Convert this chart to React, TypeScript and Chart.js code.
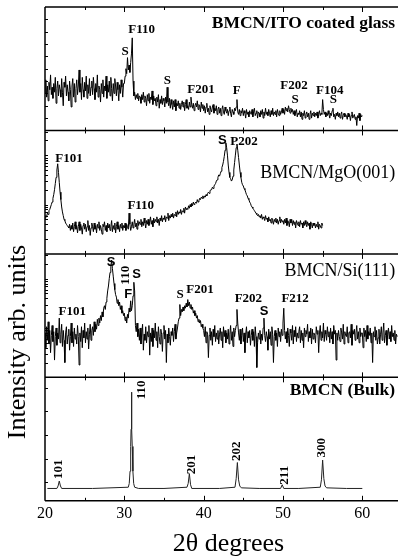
import React, { useEffect, useRef } from "react";
import { Chart, registerables } from "chart.js";

Chart.register(...registerables);

// ---------------- data (intensity in arbitrary units, 0-100 per panel) ----------------
const itoStartAngle = 20;
const itoStep = 0.1;
const itoIntensity = [
  30, 41, 27, 36, 24, 39, 33, 45, 29, 35,
  26, 38, 31, 43, 22, 34, 40, 28, 37, 33,
  27, 42, 31, 20, 39, 35, 44, 28, 37, 31,
  24, 40, 33, 19, 36, 42, 27, 38, 23, 34,
  41, 29, 36, 49, 31, 38, 25, 43, 33, 27,
  39, 32, 44, 26, 37, 30, 42, 28, 35, 40,
  29, 43, 34, 25, 38, 31, 45, 27, 36, 33,
  23, 38, 30, 41, 27, 36, 32, 44, 26, 37,
  31, 40, 28, 43, 34, 24, 38, 30, 42, 36,
  28, 39, 33, 24, 37, 30, 41, 35, 27, 38,
  38, 44, 50, 46, 59, 49, 53, 47, 55, 62,
  75, 40, 28, 31, 25, 29, 26, 30, 24, 28,
  27, 22, 29, 25, 31, 23, 28, 26, 20, 29,
  24, 30, 22, 27, 25, 32, 21, 28, 24, 26,
  20, 27, 23, 29, 18, 25, 22, 28, 21, 26,
  24, 19, 27, 22, 35, 23, 20, 26, 18, 25,
  21, 17, 24, 19, 25, 16, 22, 20, 24, 18,
  22, 17, 21, 24, 19, 23, 16, 21, 25, 18,
  20, 17, 23, 19, 27, 21, 18, 22, 16, 20,
  22, 19, 24, 17, 21, 20, 15, 23, 18, 21,
  16, 20, 14, 19, 22, 15, 18, 13, 20, 17,
  15, 19, 21, 14, 18, 16, 20, 13, 17, 19,
  14, 18, 12, 17, 20, 15, 13, 19, 16, 14,
  17, 12, 16, 19, 14, 11, 17, 15, 13, 18,
  16, 19, 25, 15, 13, 17, 12, 16, 14, 18,
  12, 16, 14, 10, 17, 13, 15, 11, 16, 14,
  13, 17, 11, 15, 18, 12, 14, 16, 10, 15,
  14, 11, 16, 13, 17, 10, 15, 12, 18, 13,
  15, 12, 17, 14, 11, 16, 13, 18, 12, 15,
  13, 16, 11, 17, 14, 12, 16, 13, 15, 18,
  14, 17, 13, 19, 16, 18, 15, 20, 17, 14,
  18, 15, 17, 13, 16, 12, 15, 17, 11, 14,
  13, 16, 11, 15, 9, 14, 12, 16, 10, 13,
  15, 11, 14, 9, 13, 16, 10, 14, 12, 15,
  11, 14, 12, 15, 10, 13, 16, 12, 14, 13,
  25, 17, 13, 15, 11, 14, 12, 16, 13, 10,
  14, 12, 16, 18, 11, 13, 9, 14, 12, 15,
  11, 14, 10, 13, 15, 9, 12, 14, 11, 13,
  12, 9, 14, 11, 13, 8, 12, 15, 10, 12,
  13, 9, 11, 4, 12, 10, 14, 8, 13, 11,
  12,
];

const mgoStartAngle = 20;
const mgoStep = 0.1;
const mgoIntensity = [
  29, 31, 30, 33, 32, 35, 36, 38, 40, 42,
  45, 48, 52, 57, 62, 68, 73, 66, 58, 50,
  44, 38, 34, 31, 28, 27, 25, 24, 23, 22,
  21, 24, 19, 23, 20, 25, 18, 22, 26, 20,
  23, 17, 22, 26, 19, 24, 21, 16, 23, 25,
  20, 24, 18, 22, 27, 19, 23, 15, 21, 25,
  22, 18, 25, 20, 23, 17, 24, 21, 26, 19,
  23, 20, 16, 24, 22, 26, 19, 23, 18, 25,
  21, 24, 19, 22, 27, 18, 23, 20, 25, 17,
  22, 26, 20, 23, 18, 24, 21, 25, 19, 23,
  21, 25, 19, 24, 22, 20, 33, 24, 19, 22,
  26, 21, 24, 28, 22, 25, 20, 27, 23, 26,
  24, 28, 22, 26, 23, 29, 25, 21, 27, 24,
  28, 23, 26, 30, 24, 27, 22, 29, 25, 28,
  26, 30, 25, 28, 23, 29, 27, 31, 26, 29,
  28, 31, 26, 30, 29, 33, 27, 31, 29, 32,
  30, 33, 29, 32, 31, 34, 30, 35, 32, 34,
  33, 36, 32, 35, 34, 37, 33, 38, 36, 37,
  36, 39, 37, 40, 38, 41, 39, 42, 40, 41,
  42, 41, 44, 42, 43, 45, 44, 46, 45, 47,
  45, 47, 46, 48, 47, 49, 50, 49, 51, 52,
  52, 54, 53, 55, 56, 57, 59, 60, 62, 64,
  63, 65, 67, 70, 72, 75, 79, 84, 90, 86,
  80, 72, 66, 62, 61, 59, 60, 63, 68, 74,
  80, 86, 89, 84, 78, 72, 66, 62, 58, 56,
  55, 53, 52, 50, 48, 47, 45, 44, 42, 41,
  39, 38, 37, 36, 35, 34, 33, 32, 31, 32,
  30, 31, 29, 32, 28, 30, 29, 27, 31, 28,
  29, 26, 30, 27, 28, 25, 29, 27, 24, 28,
  26, 29, 25, 28, 24, 27, 30, 25, 28, 26,
  27, 24, 28, 25, 29, 23, 27, 26, 22, 28,
  25, 28, 23, 27, 24, 26, 21, 27, 25, 23,
  26, 22, 27, 24, 25, 21, 26, 23, 27, 24,
  22, 26, 23, 25, 20, 26, 24, 21, 25, 23,
  25, 21, 24, 22, 26, 20, 24, 23, 21, 25,
  23,
];

const siStartAngle = 20;
const siStep = 0.1;
const siIntensity = [
  36, 24, 41, 30, 45, 27, 38, 20, 34, 42,
  29, 37, 14, 33, 40, 26, 36, 31, 48, 28,
  35, 43, 25, 38, 30, 12, 36, 41, 27, 34,
  39, 22, 33, 44, 28, 37, 25, 40, 31, 35,
  27, 42, 33, 10, 36, 29, 41, 24, 38, 32,
  44, 28, 37, 31, 40, 23, 35, 43, 30, 38,
  41, 34, 45, 37, 43, 39, 47, 42, 48, 44,
  50, 46, 53, 49, 56, 58, 55, 61, 64, 70,
  74, 80, 85, 90, 95, 88, 82, 76, 71, 67,
  65, 60, 63, 58, 61, 55, 58, 52, 54, 50,
  52, 46, 49, 44, 51, 48, 56, 53, 62, 54,
  58, 66, 77, 70, 42, 37, 44, 33, 39, 30,
  40, 27, 36, 43, 22, 35, 30, 41, 28, 37,
  33, 42, 18, 36, 29, 40, 25, 38, 32, 44,
  30, 37, 24, 41, 33, 27, 39, 35, 21, 36,
  42, 31, 38, 12, 35, 28, 40, 33, 26, 37,
  34, 40, 29, 37, 43, 31, 36, 40, 45, 48,
  59, 50, 55, 53, 57, 54, 58, 56, 60, 57,
  63, 58, 61, 56, 59, 55, 57, 52, 54, 50,
  52, 48, 50, 45, 47, 44, 46, 41, 43, 40,
  38, 33, 41, 28, 37, 35, 16, 34, 40, 30,
  37, 26, 39, 33, 42, 29, 36, 31, 38, 27,
  35, 40, 30, 37, 24, 41, 33, 38, 28, 36,
  31, 39, 27, 35, 42, 30, 37, 25, 40, 33,
  38, 42, 55, 44, 36, 30, 39, 27, 34, 40,
  29, 36, 20, 35, 41, 28, 37, 32, 38, 26,
  34, 39, 30, 37, 25, 41, 33, 8, 28, 36,
  31, 38, 27, 35, 30, 40, 48, 34, 29, 37,
  33, 22, 39, 31, 37, 26, 41, 35, 12, 33,
  38, 30, 36, 25, 40, 33, 37, 29, 39, 34,
  44, 56, 38, 31, 37, 28, 40, 34, 25, 39,
  36, 30, 42, 27, 38, 33, 41, 29, 36, 32,
  37, 41, 28, 38, 30, 36, 24, 40, 33, 38,
  35, 43, 29, 37, 32, 40, 27, 39, 31, 36,
  34, 28, 41, 35, 38, 20, 36, 42, 30, 37,
  32, 44, 29, 38, 35, 30, 41, 33, 37, 28,
  40, 31, 37, 27, 42, 35, 38, 14, 36, 30,
  38, 33, 29, 40, 36, 31, 43, 27, 37, 34,
  33, 41, 28, 36, 37, 32, 43, 26, 38, 35,
  39, 30, 36, 42, 31, 37, 28, 40, 33, 36,
  36, 24, 40, 33, 38, 29, 42, 31, 37, 34,
  40, 28, 36, 12, 37, 33, 41, 30, 38, 27,
  32, 39, 27, 35, 41, 30, 36, 44, 28, 34,
  38, 26, 35, 40, 31, 37, 29, 42, 33, 36,
  30, 38, 27, 35, 33,
];

const bulkAngle = [
  20.3, 21.5, 21.65, 21.8, 21.95, 22.1, 26,
  30.5, 30.62, 30.72, 30.8, 30.85, 30.9, 30.95, 31.0, 31.08, 31.18, 31.3, 31.8, 35,
  37.9, 38.05, 38.2, 38.35, 38.5, 42,
  43.95, 44.1, 44.25, 44.4, 44.55, 44.75, 47,
  49.7, 49.9, 50.1, 52,
  54.7, 54.85, 55.0, 55.15, 55.3, 55.5, 58, 60,
];
const bulkIntensity = [
  10, 10, 12, 16, 12, 10, 10,
  11, 14, 24, 44, 58, 88, 58, 44, 24, 14, 11, 10, 10,
  11, 14, 22, 13, 10, 10,
  11, 18, 31, 17, 12, 10.5, 10,
  10, 13, 10, 10,
  11, 17, 33, 18, 12, 10.5, 10, 10,
];

const sampleNames = ["BMCN/ITO coated glass", "BMCN/MgO(001)", "BMCN/Si(111)", "BMCN (Bulk)"];
const sampleNameY = [387, 265.6, 185.9, 89.3];
const sampleNameBold = [true, false, false, true];
const panelBase = [300, 200, 100, 0];
const panelEdges = [0, 100, 200, 300, 400];
const xTickValues = [20, 30, 40, 50, 60];
const xMinorTicks = [25, 30, 35, 40, 45, 50, 55, 60];

type PeakLabel = { text: string; x: number; y: number; kind: "serif" | "sans" | "rot" };
const peakLabels: PeakLabel[] = [
  // ITO coated glass
  { text: "S", x: 30.09, y: 363.8, kind: "serif" },
  { text: "F110", x: 32.19, y: 381.5, kind: "serif" },
  { text: "S", x: 35.42, y: 340.7, kind: "serif" },
  { text: "F201", x: 39.67, y: 333.2, kind: "serif" },
  { text: "F", x: 44.17, y: 332.4, kind: "serif" },
  { text: "F202", x: 51.4, y: 336.4, kind: "serif" },
  { text: "S", x: 51.53, y: 324.6, kind: "serif" },
  { text: "F104", x: 55.9, y: 332.6, kind: "serif" },
  { text: "S", x: 56.36, y: 324.6, kind: "serif" },
  // MgO(001)
  { text: "F101", x: 23.03, y: 277.4, kind: "serif" },
  { text: "F110", x: 32.07, y: 238.8, kind: "serif" },
  { text: "S", x: 42.36, y: 291.6, kind: "sans" },
  { text: "P202", x: 45.09, y: 291.1, kind: "serif" },
  // Si(111)
  { text: "S", x: 28.32, y: 193.2, kind: "sans" },
  { text: "110", x: 30.21, y: 182.7, kind: "rot" },
  { text: "F", x: 30.5, y: 166.8, kind: "sans" },
  { text: "S", x: 31.56, y: 183.5, kind: "sans" },
  { text: "S", x: 37.02, y: 166.8, kind: "serif" },
  { text: "F201", x: 39.55, y: 170.9, kind: "serif" },
  { text: "F202", x: 45.64, y: 163.4, kind: "serif" },
  { text: "S", x: 47.62, y: 153.5, kind: "sans" },
  { text: "F212", x: 51.53, y: 163.4, kind: "serif" },
  { text: "F101", x: 23.44, y: 152.9, kind: "serif" },
  // Bulk
  { text: "110", x: 32.19, y: 89.9, kind: "rot" },
  { text: "101", x: 21.77, y: 25.5, kind: "rot" },
  { text: "201", x: 38.5, y: 29.5, kind: "rot" },
  { text: "202", x: 44.17, y: 40.2, kind: "rot" },
  { text: "211", x: 50.18, y: 20.7, kind: "rot" },
  { text: "300", x: 54.89, y: 42.9, kind: "rot" },
];

// left-axis minor tick positions (within each panel, 0-100)
const linearPanelTicks = [10, 20, 30, 40, 50, 60, 70, 80, 90];
const logPanelTicks = [12, 19, 24, 28, 31, 34, 36, 38, 40, 52, 59, 64, 68, 71, 74, 76, 78, 80, 92, 99];
const bulkPanelTicks = [15, 34, 53, 73, 91];

const SERIF = "'Liberation Serif', 'Times New Roman', serif";
const SANS = "'Liberation Sans', Arial, sans-serif";

const scan = (start: number, step: number, values: number[], base: number) =>
  values.map((v, i) => ({ x: +(start + i * step).toFixed(2), y: v + base }));

const decorPlugin = {
  id: "decor",
  afterDatasetsDraw(chart: any) {
    const { ctx, chartArea: a } = chart;
    const xs = chart.scales.x;
    const ys = chart.scales.y;
    ctx.save();
    ctx.strokeStyle = "#000";
    ctx.fillStyle = "#000";
    // frame and panel separators
    ctx.lineWidth = 1.5;
    ctx.beginPath();
    ctx.moveTo(a.left, a.top);
    ctx.lineTo(a.left, a.bottom);
    for (const b of panelEdges) {
      const py = ys.getPixelForValue(b);
      ctx.moveTo(a.left, py);
      ctx.lineTo(a.right, py);
    }
    ctx.stroke();
    // x ticks on every panel edge (inward both ways)
    ctx.lineWidth = 1;
    ctx.beginPath();
    for (const v of xMinorTicks) {
      const px = Math.round(xs.getPixelForValue(v)) + 0.5;
      const len = v % 10 === 0 ? 5 : 3;
      for (const b of panelEdges) {
        const py = ys.getPixelForValue(b);
        if (b < 400) { ctx.moveTo(px, py); ctx.lineTo(px, py - len); }
        if (b > 0) { ctx.moveTo(px, py); ctx.lineTo(px, py + len); }
      }
    }
    // left ticks
    const leftTicks = (base: number, list: number[]) => {
      for (const t of list) {
        const py = Math.round(ys.getPixelForValue(base + t)) + 0.5;
        ctx.moveTo(a.left, py);
        ctx.lineTo(a.left + 3, py);
      }
    };
    leftTicks(panelBase[0], linearPanelTicks);
    leftTicks(panelBase[1], logPanelTicks);
    leftTicks(panelBase[2], logPanelTicks);
    leftTicks(panelBase[3], bulkPanelTicks);
    ctx.stroke();

    // sample names
    ctx.textBaseline = "middle";
    ctx.textAlign = "right";
    sampleNames.forEach((name, i) => {
      ctx.font = `${sampleNameBold[i] ? "bold 17.5px" : "18px"} ${SERIF}`;
      ctx.fillText(name, xs.getPixelForValue(64.14), ys.getPixelForValue(sampleNameY[i]));
    });

    // peak labels
    ctx.textAlign = "center";
    for (const l of peakLabels) {
      const px = xs.getPixelForValue(l.x);
      const py = ys.getPixelForValue(l.y);
      if (l.kind === "rot") {
        ctx.font = `bold 13px ${SERIF}`;
        ctx.save();
        ctx.translate(px, py);
        ctx.rotate(-Math.PI / 2);
        ctx.fillText(l.text, 0, 0);
        ctx.restore();
      } else {
        ctx.font = l.kind === "sans" ? `bold 13px ${SANS}` : `bold 13px ${SERIF}`;
        ctx.fillText(l.text, px, py);
      }
    }

    // axis titles
    ctx.font = `26px ${SERIF}`;
    ctx.save();
    ctx.translate(18, 342);
    ctx.rotate(-Math.PI / 2);
    ctx.textBaseline = "middle";
    ctx.fillText("Intensity arb. units", 0, 0);
    ctx.restore();

    ctx.font = `26px ${SERIF}`;
    ctx.textBaseline = "alphabetic";
    ctx.fillText("2θ degrees", 228.5, 551);
    ctx.restore();
  },
};

export default function App() {
  const canvasRef = useRef<HTMLCanvasElement | null>(null);

  useEffect(() => {
    const canvas = canvasRef.current;
    if (!canvas) return;
    const line = (data: any[], color = "#000") => ({
      data,
      borderColor: color,
      borderWidth: 1,
      pointRadius: 0,
      tension: 0,
      fill: false,
    });
    const chart = new Chart(canvas, {
      type: "line",
      data: {
        datasets: [
          line(scan(itoStartAngle, itoStep, itoIntensity, panelBase[0])),
          line(scan(mgoStartAngle, mgoStep, mgoIntensity, panelBase[1])),
          line(scan(siStartAngle, siStep, siIntensity, panelBase[2])),
          line(bulkAngle.map((a, i) => ({ x: a, y: bulkIntensity[i] + panelBase[3] })), "#222"),
        ],
      },
      options: {
        animation: false,
        responsive: false,
        devicePixelRatio: 1,
        layout: { padding: { left: 45, top: 7, right: 0, bottom: 34 } },
        plugins: { legend: { display: false }, tooltip: { enabled: false } },
        scales: {
          x: {
            type: "linear",
            min: 20,
            max: 64.5,
            afterBuildTicks: (s: any) => {
              s.ticks = xTickValues.map((v) => ({ value: v }));
            },
            ticks: {
              color: "#000",
              font: { family: SERIF, size: 16 },
              padding: 3,
              maxRotation: 0,
              autoSkip: false,
            },
            grid: { display: false, drawTicks: false },
            border: { display: false },
          },
          y: { display: false, min: 0, max: 400 },
        },
      },
      plugins: [decorPlugin],
    } as any);
    return () => chart.destroy();
  }, []);

  return (
    <div style={{ position: "absolute", left: 0, top: 0, width: 398, height: 560, background: "#fff" }}>
      <canvas ref={canvasRef} width={398} height={560} style={{ display: "block" }} />
    </div>
  );
}
